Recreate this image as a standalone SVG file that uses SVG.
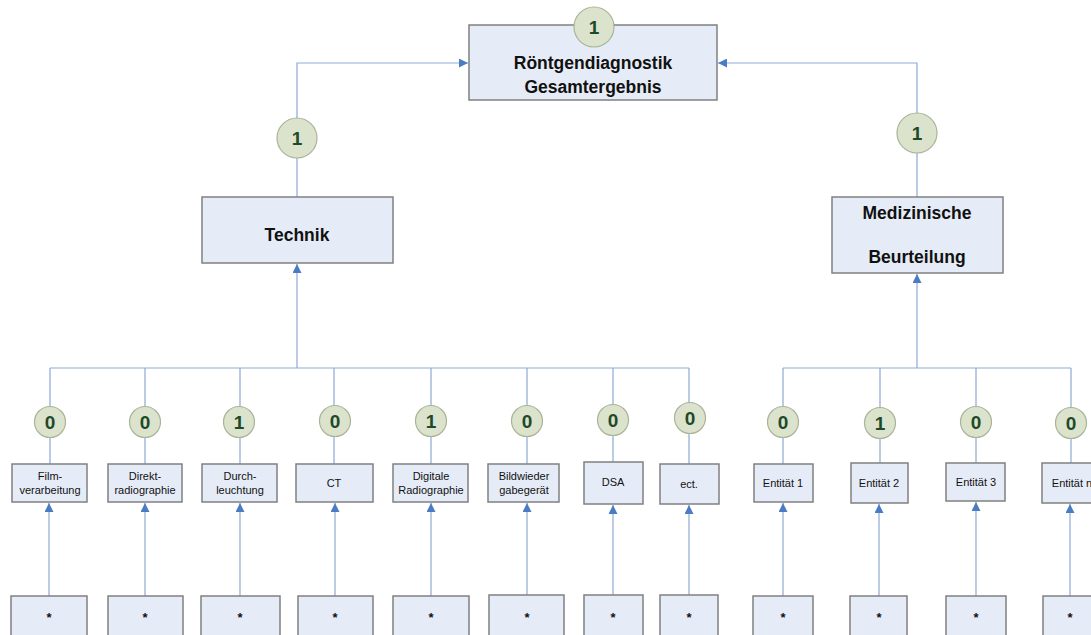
<svg xmlns="http://www.w3.org/2000/svg" width="1091" height="635" viewBox="0 0 1091 635">
<style>
.box{fill:#E6ECF7;stroke:#808080;stroke-width:1.5}
.c{fill:#DCE3CC;stroke:#A9B498;stroke-width:1.2}
.n{font-family:"Liberation Sans",Arial,sans-serif;font-weight:bold;font-size:19px;fill:#1F4A2A;text-anchor:middle}
.big{font-family:"Liberation Sans",Arial,sans-serif;font-weight:bold;font-size:17.5px;fill:#111;text-anchor:middle}
.sm{font-family:"Liberation Sans",Arial,sans-serif;font-size:11px;fill:#111;text-anchor:middle}
.st{font-family:"Liberation Sans",Arial,sans-serif;font-weight:bold;font-size:13px;fill:#111;text-anchor:middle}
.ln{fill:none;stroke:#8FA9D4;stroke-width:1.2}
</style>
<defs>
<marker id="ar" viewBox="0 0 10 10" refX="10" refY="5" markerWidth="9" markerHeight="9" markerUnits="userSpaceOnUse" orient="auto">
<path d="M0,0 L10,5 L0,10 Z" fill="#4A7CC4"/>
</marker>
</defs>
<g id="connectors">
<path class="ln" d="M297,197 V63 H468" marker-end="url(#ar)"/>
<path class="ln" d="M917,197 V63 H718" marker-end="url(#ar)"/>
<path class="ln" d="M297,368 V264" marker-end="url(#ar)"/>
<path class="ln" d="M917,368 V274" marker-end="url(#ar)"/>
<path class="ln" d="M50,368 H689"/>
<path class="ln" d="M783,368 H1071"/>
<path class="ln" d="M50,368 V464 M145,368 V464 M240,368 V464 M334,368 V464 M431,368 V464 M527,368 V464 M613,368 V462 M689,368 V464"/>
<path class="ln" d="M783,368 V464 M880,368 V463 M976,368 V463 M1071,368 V463"/>
<path class="ln" d="M49,596 V503" marker-end="url(#ar)"/>
<path class="ln" d="M145,596 V503" marker-end="url(#ar)"/>
<path class="ln" d="M240,596 V503" marker-end="url(#ar)"/>
<path class="ln" d="M335,596 V503" marker-end="url(#ar)"/>
<path class="ln" d="M431,596 V503" marker-end="url(#ar)"/>
<path class="ln" d="M527,596 V503" marker-end="url(#ar)"/>
<path class="ln" d="M613,596 V505" marker-end="url(#ar)"/>
<path class="ln" d="M689,596 V505" marker-end="url(#ar)"/>
<path class="ln" d="M783,596 V503" marker-end="url(#ar)"/>
<path class="ln" d="M879,596 V504" marker-end="url(#ar)"/>
<path class="ln" d="M976,596 V502" marker-end="url(#ar)"/>
<path class="ln" d="M1070,596 V504" marker-end="url(#ar)"/>
</g>
<g id="root">
<rect class="box" x="469" y="25" width="248" height="75"/>
<text class="big" x="593" y="69">Röntgendiagnostik</text>
<text class="big" x="593" y="93">Gesamtergebnis</text>
<circle class="c" cx="594" cy="27" r="20"/>
<text class="n" x="594" y="34">1</text>
</g>
<g id="technik">
<rect class="box" x="202" y="197" width="191" height="66"/>
<text class="big" x="297" y="241">Technik</text>
<circle class="c" cx="297" cy="138" r="20"/>
<text class="n" x="297" y="145">1</text>
</g>
<g id="medizin">
<rect class="box" x="832" y="197" width="171" height="76"/>
<text class="big" x="917" y="219">Medizinische</text>
<text class="big" x="917" y="263">Beurteilung</text>
<circle class="c" cx="917" cy="133" r="20"/>
<text class="n" x="917" y="140">1</text>
</g>
<g id="film">
<rect class="box" x="12" y="464" width="75" height="38"/>
<text class="sm" x="50" y="480">Film-</text>
<text class="sm" x="50" y="494">verarbeitung</text>
<circle class="c" cx="50" cy="422" r="15.5"/>
<text class="n" x="50" y="429">0</text>
</g>
<g id="direkt">
<rect class="box" x="108" y="464" width="74" height="38"/>
<text class="sm" x="145" y="480">Direkt-</text>
<text class="sm" x="145" y="494">radiographie</text>
<circle class="c" cx="145" cy="422" r="15.5"/>
<text class="n" x="145" y="429">0</text>
</g>
<g id="durch">
<rect class="box" x="202" y="464" width="75" height="38"/>
<text class="sm" x="240" y="480">Durch-</text>
<text class="sm" x="240" y="494">leuchtung</text>
<circle class="c" cx="239" cy="422" r="15.5"/>
<text class="n" x="239" y="429">1</text>
</g>
<g id="ct">
<rect class="box" x="296" y="464" width="77" height="38"/>
<text class="sm" x="334" y="487">CT</text>
<circle class="c" cx="335" cy="421" r="15.5"/>
<text class="n" x="335" y="428">0</text>
</g>
<g id="digitale">
<rect class="box" x="393" y="464" width="75" height="38"/>
<text class="sm" x="431" y="480">Digitale</text>
<text class="sm" x="431" y="494">Radiographie</text>
<circle class="c" cx="431" cy="421" r="15.5"/>
<text class="n" x="431" y="428">1</text>
</g>
<g id="bildwieder">
<rect class="box" x="488" y="464" width="71" height="38"/>
<text class="sm" x="524" y="480">Bildwieder</text>
<text class="sm" x="524" y="494">gabegerät</text>
<circle class="c" cx="527" cy="421" r="15.5"/>
<text class="n" x="527" y="428">0</text>
</g>
<g id="dsa">
<rect class="box" x="584" y="462" width="59" height="42"/>
<text class="sm" x="613" y="486">DSA</text>
<circle class="c" cx="613" cy="420" r="15.5"/>
<text class="n" x="613" y="427">0</text>
</g>
<g id="ect">
<rect class="box" x="660" y="464" width="59" height="40"/>
<text class="sm" x="689" y="488">ect.</text>
<circle class="c" cx="690" cy="418" r="15.5"/>
<text class="n" x="690" y="425">0</text>
</g>
<g id="entitaet1">
<rect class="box" x="754" y="464" width="59" height="38"/>
<text class="sm" x="783" y="487">Entität 1</text>
<circle class="c" cx="783" cy="422" r="15.5"/>
<text class="n" x="783" y="429">0</text>
</g>
<g id="entitaet2">
<rect class="box" x="851" y="463" width="57" height="40"/>
<text class="sm" x="879" y="487">Entität 2</text>
<circle class="c" cx="880" cy="423" r="15.5"/>
<text class="n" x="880" y="430">1</text>
</g>
<g id="entitaet3">
<rect class="box" x="946" y="463" width="59" height="38"/>
<text class="sm" x="976" y="486">Entität 3</text>
<circle class="c" cx="976" cy="422" r="15.5"/>
<text class="n" x="976" y="429">0</text>
</g>
<g id="entitaetn">
<rect class="box" x="1042" y="463" width="60" height="40"/>
<text class="sm" x="1072" y="487">Entität n</text>
<circle class="c" cx="1071" cy="423" r="15.5"/>
<text class="n" x="1071" y="430">0</text>
</g>
<g id="leaves">
<rect class="box" x="11" y="596" width="76" height="45"/><text class="st" x="49" y="622">*</text>
<rect class="box" x="108" y="596" width="75" height="45"/><text class="st" x="145" y="622">*</text>
<rect class="box" x="201" y="596" width="79" height="45"/><text class="st" x="240" y="622">*</text>
<rect class="box" x="298" y="596" width="75" height="45"/><text class="st" x="335" y="622">*</text>
<rect class="box" x="393" y="596" width="76" height="45"/><text class="st" x="431" y="622">*</text>
<rect class="box" x="489" y="595" width="75" height="46"/><text class="st" x="527" y="622">*</text>
<rect class="box" x="584" y="595" width="59" height="46"/><text class="st" x="613" y="622">*</text>
<rect class="box" x="660" y="595" width="58" height="46"/><text class="st" x="689" y="622">*</text>
<rect class="box" x="753" y="596" width="60" height="45"/><text class="st" x="783" y="622">*</text>
<rect class="box" x="850" y="596" width="57" height="45"/><text class="st" x="879" y="622">*</text>
<rect class="box" x="946" y="596" width="60" height="45"/><text class="st" x="976" y="622">*</text>
<rect class="box" x="1043" y="596" width="60" height="45"/><text class="st" x="1070" y="622">*</text>
</g>
</svg>
